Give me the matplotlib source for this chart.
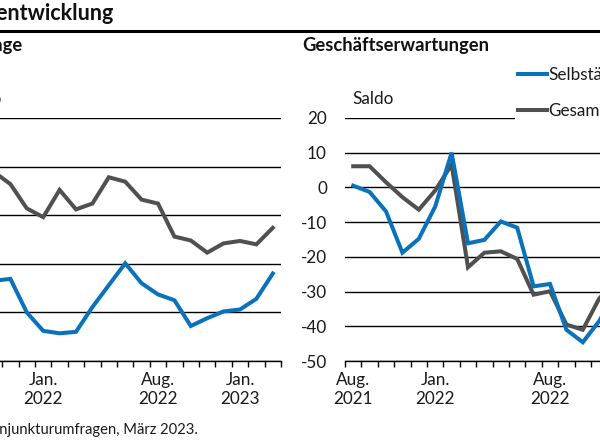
import matplotlib.pyplot as plt
import numpy as np
from matplotlib.lines import Line2D

plt.rcParams['font.family'] = ['Lato', 'DejaVu Sans']

# Aug 2021 .. Mar 2023
months = ['Aug. 2021', 'Sep. 2021', 'Okt. 2021', 'Nov. 2021', 'Dez. 2021',
          'Jan. 2022', 'Feb. 2022', 'Mär. 2022', 'Apr. 2022', 'Mai 2022',
          'Jun. 2022', 'Jul. 2022', 'Aug. 2022', 'Sep. 2022', 'Okt. 2022',
          'Nov. 2022', 'Dez. 2022', 'Jan. 2023', 'Feb. 2023', 'Mär. 2023']

# Geschaeftslage (Saldo)
lage_selbst = [-2.0, -4.0, -3.5, -3.1, -10.0, -13.8, -14.3, -14.0, -8.9, -4.4,
               0.1, -4.0, -6.3, -7.5, -12.8, -11.2, -9.8, -9.4, -7.2, -2.0]
lage_gesamt = [20.0, 22.0, 18.9, 16.4, 11.4, 9.6, 15.2, 11.2, 12.4, 17.8,
               16.9, 13.2, 12.4, 5.6, 4.8, 2.3, 4.2, 4.7, 4.0, 7.4]

# Geschaeftserwartungen (Saldo)
erw_selbst = [0.5, -1.3, -6.9, -18.8, -14.8, -5.5, 10.0, -16.1, -15.1, -9.8,
              -11.6, -28.5, -27.8, -41.0, -44.6, -38.5, -30.0, -25.0, -22.0, -24.0]
erw_gesamt = [6.1, 6.1, 1.5, -2.8, -6.4, -0.9, 6.6, -23.0, -18.8, -18.4,
              -20.6, -30.9, -29.9, -39.5, -41.0, -32.0, -27.0, -24.0, -21.0, -23.0]

label_pos = [0, 5, 12, 17]
label_txt = ['Aug.\n2021', 'Jan.\n2022', 'Aug.\n2022', 'Jan.\n2023']

blue = '#0a72ba'
grey = '#505050'

W, H = 600, 443
fig = plt.figure(figsize=(W / 100, H / 100), dpi=100)

def px(x, y):
    return x / W, 1 - y / H

ax_w = 328 / W
ax_b = (H - 361) / H
ax_h = 243 / H
ax1 = fig.add_axes([-47 / W, ax_b, ax_w, ax_h])
ax2 = fig.add_axes([345 / W, ax_b, ax_w, ax_h])

x = np.arange(len(months))
fs = 12.3

for ax, s1, s2, yt in [(ax1, lage_selbst, lage_gesamt, np.arange(-20, 31, 10)),
                       (ax2, erw_selbst, erw_gesamt, np.arange(-50, 21, 10))]:
    ax.plot(x, s2, color=grey, lw=2.9, solid_joinstyle='miter', zorder=3, label='Gesamtwirtschaft')
    ax.plot(x, s1, color=blue, lw=2.9, solid_joinstyle='miter', zorder=4, label='Selbständige')
    ax.set_xlim(-0.5, len(months) - 0.5)
    ax.set_ylim(yt[0], yt[-1])
    ax.set_yticks(yt)
    ax.set_yticklabels([str(v) for v in yt], fontsize=fs, color='#1a1a1a')
    ax.yaxis.grid(True, color='black', lw=1.0)
    ax.set_axisbelow(True)
    ax.tick_params(axis='y', length=0, pad=13)
    ax.set_xticks(label_pos)
    ax.set_xticklabels(label_txt, fontsize=fs, color='#1a1a1a', linespacing=1.2)
    ax.set_xticks(np.arange(-0.5, len(months), 1), minor=True)
    ax.tick_params(axis='x', which='major', length=0, pad=8)
    ax.tick_params(axis='x', which='minor', length=4, width=1, color='black')
    for sp in ['left', 'right', 'top']:
        ax.spines[sp].set_visible(False)
    ax.spines['bottom'].set_linewidth(1.0)
    ax.text(7 / 328, 1 + 19 / 243, 'Saldo', transform=ax.transAxes,
            fontsize=fs, va='center', ha='left', color='#1a1a1a')

h, l = ax2.get_legend_handles_labels()
leg = ax2.legend(h[::-1], l[::-1], loc='upper left', bbox_to_anchor=px(515, 64),
                 bbox_transform=fig.transFigure, fontsize=fs, handlelength=1.7,
                 handletextpad=0.05, labelspacing=1.15, borderpad=0.2,
                 frameon=True, framealpha=1, facecolor='white', edgecolor='none',
                 borderaxespad=0)
for t in leg.get_texts():
    t.set_color('#1a1a1a')

fig.text(*px(113, 14), 'Geschäftsentwicklung', ha='right', va='center',
         fontsize=15.5, fontweight='bold', color='#111111')
fig.add_artist(Line2D([0, 1], [1 - 31 / H] * 2, color='black', lw=2.2))
fig.text(*px(23, 46), 'Geschäftslage', ha='right', va='center',
         fontsize=13.2, fontweight='bold', color='#111111')
fig.text(*px(302, 46), 'Geschäftserwartungen', ha='left', va='center',
         fontsize=13.2, fontweight='bold', color='#111111')
fig.text(*px(198, 430), 'Quelle: ifo Konjunkturumfragen, März 2023.', ha='right', va='center',
         fontsize=10.6, color='#1a1a1a')

fig.savefig('out.png', dpi=100)
